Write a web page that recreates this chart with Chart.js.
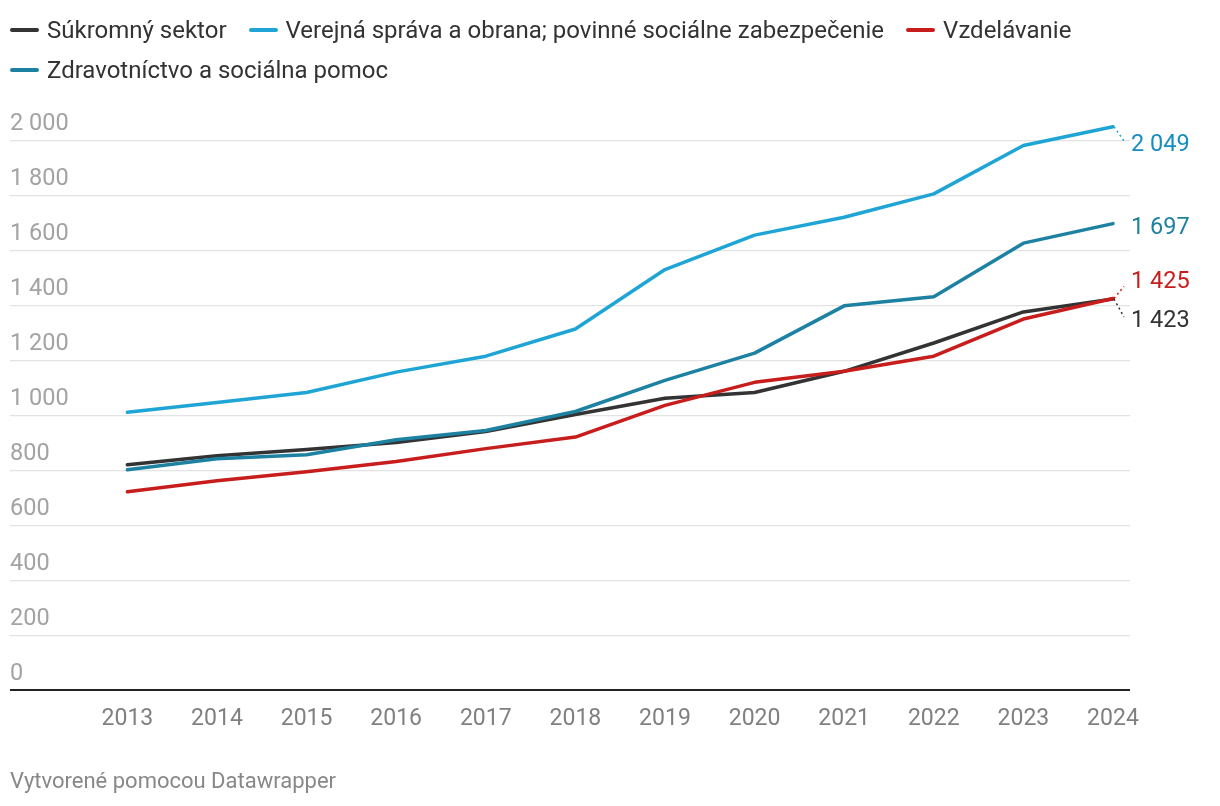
<!DOCTYPE html>
<html lang="sk">
<head>
<meta charset="utf-8">
<script src="https://cdn.jsdelivr.net/npm/chart.js@4.4.1/dist/chart.umd.min.js"></script>
<style>
  html, body { margin: 0; padding: 0; background: #fff; }
  body { width: 1220px; height: 806px; position: relative; overflow: hidden; font-family: Roboto, sans-serif; }
  #legend { position: absolute; left: 10px; top: 10px; width: 1150px; display: flex; flex-wrap: wrap; }
  .item { display: flex; align-items: center; height: 40px; margin-right: 22px; font-size: 24px; color: #333; white-space: nowrap; }
  .swatch { width: 29px; height: 4px; border-radius: 2px; margin-right: 8px; }
  #wrap { position: absolute; left: 0; top: 0; width: 1220px; height: 806px; }
  #footer { position: absolute; left: 10px; top: 768px; font-size: 22px; color: #888; }
</style>
</head>
<body>
<div id="wrap"><canvas id="chart"></canvas></div>
<div id="legend"></div>
<div id="footer">Vytvorené pomocou Datawrapper</div>
<script>
// ── data ────────────────────────────────────────────────────────
const years = [2013, 2014, 2015, 2016, 2017, 2018, 2019, 2020, 2021, 2022, 2023, 2024];
const yTicks = [0, 200, 400, 600, 800, 1000, 1200, 1400, 1600, 1800, 2000];

const seriesNames = [
  'Súkromný sektor',
  'Verejná správa a obrana; povinné sociálne zabezpečenie',
  'Vzdelávanie',
  'Zdravotníctvo a sociálna pomoc'
];
const privateSector = [820, 853, 876, 901, 941, 1003, 1062, 1083, 1160, 1263, 1376, 1423];
const publicAdmin   = [1011, 1047, 1083, 1157, 1215, 1314, 1530, 1655, 1720, 1805, 1981, 2049];
const education     = [722, 762, 795, 832, 879, 921, 1036, 1120, 1160, 1215, 1350, 1425];
const health        = [802, 842, 857, 911, 945, 1014, 1127, 1226, 1398, 1431, 1626, 1697];

const lineColors  = ['#333333', '#1fa5d5', '#c71e1d', '#1d82a2'];
const labelColors = ['#333333', '#168ec0', '#c71e1d', '#1d82a2'];
// vertical nudge of the end labels so they do not collide
const labelShift  = [22, 18, -16, 5];

const GRID_COLOR = '#e3e3e3';
const FONT_FAMILY = 'Roboto, sans-serif';

const fmt = v => String(Math.round(v)).replace(/\B(?=(\d{3})+(?!\d))/g, ' ');

// ── legend ──────────────────────────────────────────────────────
const legendEl = document.getElementById('legend');
seriesNames.forEach((name, i) => {
  const item = document.createElement('div');
  item.className = 'item';
  item.innerHTML = `<span class="swatch" style="background:${lineColors[i]}"></span>${name}`;
  legendEl.appendChild(item);
});

// ── end labels plugin ───────────────────────────────────────────
const endLabels = {
  id: 'endLabels',
  afterDatasetsDraw(chart) {
    const { ctx } = chart;
    ctx.save();
    ctx.font = `23.5px ${FONT_FAMILY}`;
    ctx.textBaseline = 'middle';
    ctx.textAlign = 'left';
    chart.data.datasets.forEach((ds, di) => {
      const i = ds.seriesIndex;
      const meta = chart.getDatasetMeta(di);
      const pt = meta.data[meta.data.length - 1];
      const ly = pt.y + labelShift[i];
      if (Math.abs(labelShift[i]) > 8) {
        ctx.strokeStyle = lineColors[i];
        ctx.lineWidth = 1.5;
        ctx.setLineDash([2, 3]);
        ctx.beginPath();
        ctx.moveTo(pt.x + 1, pt.y);
        ctx.lineTo(pt.x + 11, ly + (labelShift[i] > 0 ? -4 : 4));
        ctx.stroke();
        ctx.setLineDash([]);
      }
      ctx.fillStyle = labelColors[i];
      ctx.fillText(fmt(ds.data[ds.data.length - 1].y), pt.x + 18, ly);
    });
    ctx.restore();
  }
};

const allSeries = [privateSector, publicAdmin, education, health];

new Chart(document.getElementById('chart'), {
  type: 'line',
  data: {
    datasets: allSeries.map((vals, i) => ({
      label: seriesNames[i],
      seriesIndex: i,
      data: vals.map((v, j) => ({ x: years[j], y: v })),
      borderColor: lineColors[i],
      borderWidth: 3.5,
      pointRadius: 0,
      tension: 0,
      clip: false,
      borderCapStyle: 'round',
      borderJoinStyle: 'round'
    })).reverse()
  },
  options: {
    responsive: true,
    maintainAspectRatio: false,
    animation: false,
    layout: { padding: { left: 10, right: 90, top: 110, bottom: 58 } },
    plugins: { legend: { display: false }, tooltip: { enabled: false } },
    scales: {
      x: {
        type: 'linear',
        min: 2011.69,
        max: 2024.19,
        afterBuildTicks: s => { s.ticks = years.map(v => ({ value: v })); },
        grid: { display: false, drawTicks: false },
        border: { display: false },
        ticks: {
          color: '#808080',
          padding: 15,
          font: { family: FONT_FAMILY, size: 23 },
          callback: v => String(v),
          maxRotation: 0,
          autoSkip: false
        }
      },
      y: {
        min: 0,
        max: 2110,
        afterBuildTicks: s => { s.ticks = yTicks.map(v => ({ value: v })); },
        grid: {
          drawTicks: false,
          color: c => c.tick.value === 0 ? '#222' : GRID_COLOR,
          lineWidth: c => c.tick.value === 0 ? 2 : 1.3
        },
        border: { display: false },
        ticks: {
          mirror: true,
          padding: 0,
          labelOffset: -16,
          color: '#a3a3a3',
          font: { family: FONT_FAMILY, size: 23.5 },
          callback: v => fmt(v)
        }
      }
    }
  },
  plugins: [endLabels]
});
</script>
</body>
</html>
